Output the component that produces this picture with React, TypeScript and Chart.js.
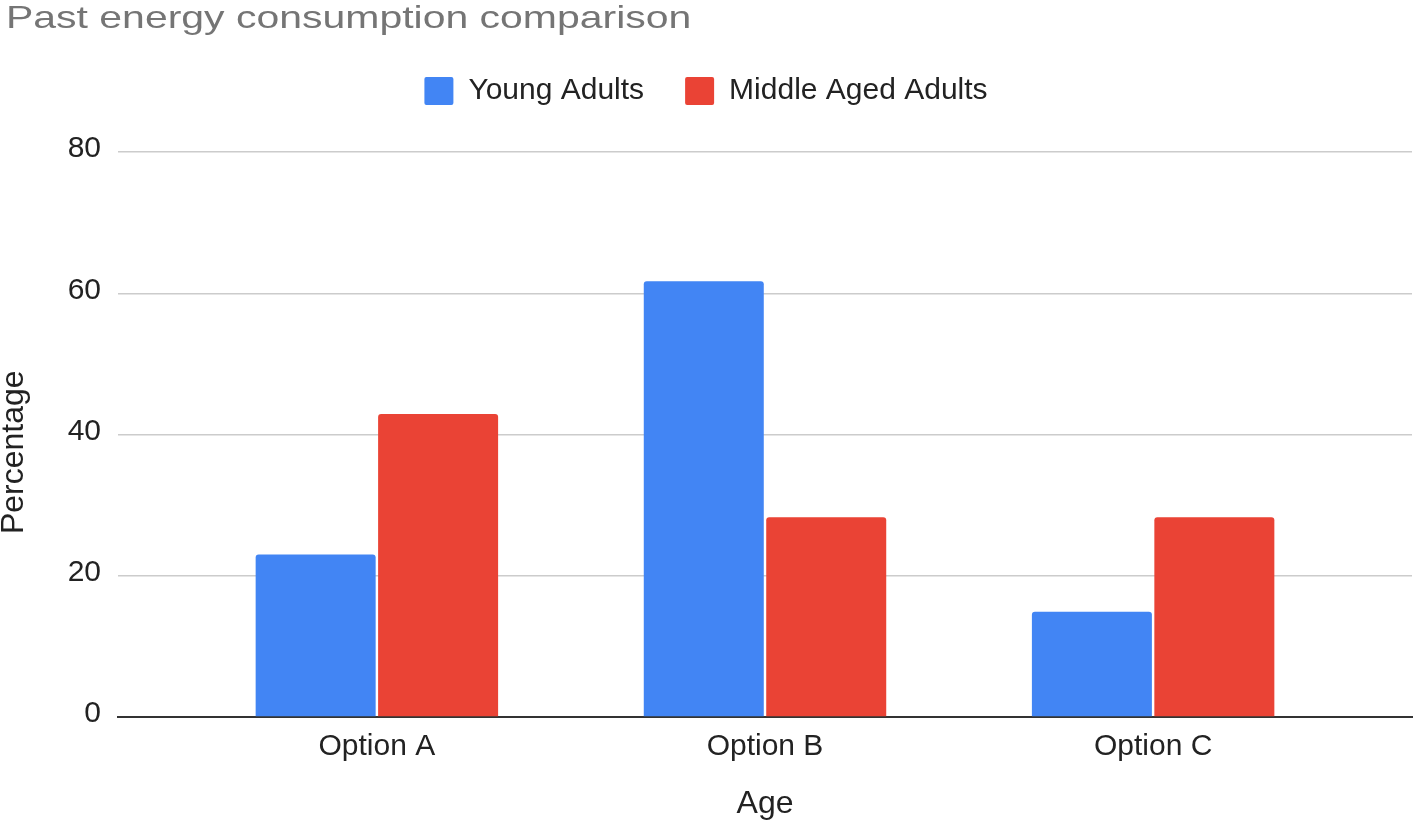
import React, { useEffect, useRef } from 'react';
import { Chart, registerables } from 'chart.js';

Chart.register(...registerables);

const chartTitle = 'Past energy consumption comparison';
const categories = ['Option A', 'Option B', 'Option C'];
const seriesNames = ['Young Adults', 'Middle Aged Adults'];
const youngAdults = [23, 61.7, 14.9];
const middleAgedAdults = [42.9, 28.3, 28.3];
const yTickStep = 20;
const yMin = 0;
const yMax = 80;
const xTitle = 'Age';
const yTitle = 'Percentage    ';

const FONT = "'Liberation Sans', Arial, sans-serif";
const TEXT = '#222222';

const titleStretch = {
  id: 'titleStretch',
  afterInit(chart: any) {
    const tb = chart.titleBlock;
    if (!tb || tb.__patched) return;
    const orig = tb.draw.bind(tb);
    tb.draw = (...args: any[]) => {
      const ctx = chart.ctx;
      ctx.save();
      ctx.translate(6, 0);
      ctx.scale(1.28, 1);
      orig(...args);
      ctx.restore();
    };
    tb.__patched = true;
  },
};

export default function App() {
  const ref = useRef<HTMLCanvasElement | null>(null);

  useEffect(() => {
    if (!ref.current) return;
    const chart = new Chart(ref.current, {
      type: 'bar',
      data: {
        datasets: [
          {
            label: seriesNames[0],
            data: youngAdults.map((v, i) => ({ x: i, y: v })),
            backgroundColor: '#4285F4',
            borderRadius: 3,
            categoryPercentage: 0.631,
            barPercentage: 0.98,
          },
          {
            label: seriesNames[1],
            data: middleAgedAdults.map((v, i) => ({ x: i, y: v })),
            backgroundColor: '#EA4335',
            borderRadius: 3,
            categoryPercentage: 0.631,
            barPercentage: 0.98,
          },
        ],
      },
      plugins: [titleStretch],
      options: {
        responsive: false,
        animation: false,
        layout: { padding: { left: 0, right: 4, top: 0, bottom: 0 } },
        plugins: {
          title: {
            display: true,
            text: chartTitle,
            align: 'start',
            color: '#757575',
            font: { family: FONT, size: 32, weight: 'normal', lineHeight: 1 },
            padding: { top: 3, bottom: 0 },
          },
          legend: {
            display: true,
            position: 'top',
            labels: {
              color: TEXT,
              font: { family: FONT, size: 30 },
              boxWidth: 29,
              boxHeight: 28,
              padding: 41,
              useBorderRadius: true,
              borderRadius: 2,
            },
          },
          subtitle: {
            display: true,
            text: '',
            weight: 500,
            font: { size: 10, lineHeight: 1 },
            padding: { top: 26, bottom: 0 },
          },
          tooltip: { enabled: false },
        },
        scales: {
          x: {
            type: 'linear',
            min: -0.667,
            max: 2.667,
            offset: false,
            afterBuildTicks: (s: any) => {
              s.ticks = categories.map((_, i) => ({ value: i }));
            },
            afterFit: (s: any) => {
              s.height = 111;
            },
            ticks: {
              callback: (v: any) => categories[v as number] ?? '',
              color: TEXT,
              font: { family: FONT, size: 30 },
              padding: 12,
              autoSkip: false,
              maxRotation: 0,
            },
            grid: { display: false, drawTicks: false },
            border: { display: true, color: '#333333', width: 2 },
            title: {
              display: true,
              text: xTitle,
              color: TEXT,
              font: { family: FONT, size: 32, lineHeight: 1.2 },
              padding: { top: 0, bottom: 5 },
            },
          },
          y: {
            min: yMin,
            max: yMax,
            afterFit: (s: any) => {
              s.width = 118;
            },
            ticks: {
              stepSize: yTickStep,
              color: TEXT,
              font: { family: FONT, size: 30 },
              padding: 17,
              labelOffset: -3,
            },
            grid: {
              drawTicks: false,
              color: (c: any) => (c.tick && c.tick.value === 0 ? 'rgba(0,0,0,0)' : '#cccccc'),
              lineWidth: 1.5,
            },
            border: { display: false },
            title: {
              display: true,
              text: yTitle,
              color: TEXT,
              font: { family: FONT, size: 32, lineHeight: 1 },
              padding: { top: -2, bottom: 0 },
            },
          },
        },
      },
    } as any);
    return () => chart.destroy();
  }, []);

  return (
    <div style={{ position: 'fixed', left: 0, top: 0, width: 1416, height: 828, background: '#ffffff' }}>
      <canvas ref={ref} width={1416} height={828} style={{ display: 'block' }} />
    </div>
  );
}
